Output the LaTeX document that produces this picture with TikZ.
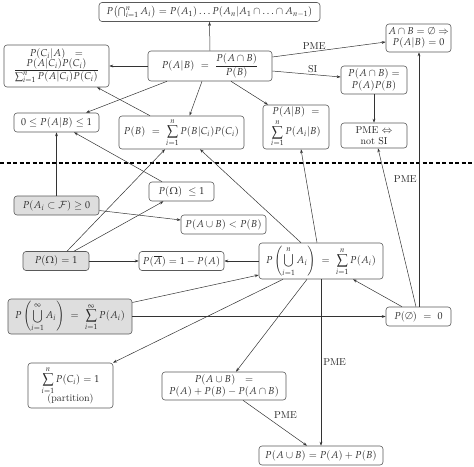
\documentclass[tikz,border=0pt]{standalone}
\usepackage{amsmath}
\usepackage{mathpazo}
\usetikzlibrary{arrows.meta}
\tikzset{
  box/.style={draw=black!65, line width=0.6pt, rounded corners=3pt, align=center, inner sep=1pt, text=black!85, font=\fontsize{10}{11.5}\selectfont},
  axiom/.style={box, fill=black!13},
  edge/.style={draw=black!80, line width=0.5pt, -{Stealth[length=4pt,width=2.8pt]}},
  lbl/.style={font=\fontsize{10}{11}\selectfont, text=black!85, inner sep=2pt}
}
\begin{document}
\begin{tikzpicture}[x=1pt,y=-1pt]
\useasboundingbox (0,0) rectangle (474,466);
% nodes
\node[box, minimum width=221pt, minimum height=19pt] (top) at (209.5,12) {$P\bigl(\bigcap_{i=1}^n A_i\bigr) = P(A_1)\ldots P(A_n|A_1\cap\ldots\cap A_{n-1})$};
\node[box, minimum width=124pt, minimum height=30pt] (pab) at (210,66) {$P(A|B)\ =\ \dfrac{P(A\cap B)}{P(B)}$};
\node[box, minimum width=105pt, minimum height=42pt] (pca) at (56.5,66) {$P(C_i|A)\ \ =$\\[-2pt] $\dfrac{P(A|C_i)P(C_i)}{\sum_{i=1}^n P(A|C_i)P(C_i)}$};
\node[box, minimum width=65pt, minimum height=28pt] (aempty) at (418.5,38) {$A\cap B=\emptyset\Rightarrow$\\ $P(A|B)=0$};
\node[box, minimum width=66pt, minimum height=28pt] (indep) at (374,80) {$P(A\cap B) =$\\ $P(A)P(B)$};
\node[box, minimum width=85pt, minimum height=19pt] (bounds) at (56.5,122.5) {$0\leq P(A|B)\leq 1$};
\node[box, minimum width=125pt, minimum height=33pt] (totalp) at (181.5,132.5) {$P(B)\ =\ \displaystyle\sum_{i=1}^n P(B|C_i)P(C_i)$};
\node[box, minimum width=66pt, minimum height=44pt] (sumcond) at (296,127) {$P(A|B)\ =$\\[1pt] $\displaystyle\sum_{i=1}^n P(A_i|B)$};
\node[box, minimum width=66pt, minimum height=25pt] (pmesi) at (374,135.5) {PME $\Leftrightarrow$\\ not SI};
\node[box, minimum width=65pt, minimum height=19pt] (omegale) at (181.5,191.5) {$P(\Omega)\ \leq 1$};
\node[axiom, minimum width=85pt, minimum height=19pt] (nonneg) at (56.5,205.5) {$P(A_i\subset\mathcal{F})\geq 0$};
\node[box, minimum width=85pt, minimum height=19pt] (unionlt) at (223.5,224.5) {$P(A\cup B) < P(B)$};
\node[axiom, minimum width=66pt, minimum height=19pt] (omega) at (56,261) {$P(\Omega)=1$};
\node[box, minimum width=85pt, minimum height=19pt] (compl) at (181.5,261) {$P(\overline{A})=1-P(A)$};
\node[box, minimum width=124pt, minimum height=36pt] (finadd) at (321,261) {$\displaystyle P\left(\bigcup_{i=1}^n A_i\right)\ =\ \sum_{i=1}^n P(A_i)$};
\node[axiom, minimum width=124pt, minimum height=35pt] (countadd) at (70,316.5) {$\displaystyle P\left(\bigcup_{i=1}^\infty A_i\right)\ =\ \sum_{i=1}^\infty P(A_i)$};
\node[box, minimum width=65pt, minimum height=19pt] (empty) at (418.5,316.5) {$P(\emptyset)\ =\ 0$};
\node[box, minimum width=85pt, minimum height=45pt] (partition) at (70.5,385.5) {$\displaystyle\sum_{i=1}^n P(C_i)=1$\\[-1pt] (partition)};
\node[box, minimum width=124pt, minimum height=28pt] (incl) at (224,386) {$P(A\cup B)\ \ =$\\ $P(A)+P(B)-P(A\cap B)$};
\node[box, minimum width=124pt, minimum height=19pt] (disj) at (321,455.5) {$P(A\cup B)=P(A)+P(B)$};
% dashed separator
\coordinate (sepL) at (0,163);
\coordinate (sepR) at (474,163);
\draw[line width=1.4pt, dash pattern=on 4pt off 2.5pt] (sepL) -- (sepR);
% edges
\draw[edge] (pab.north) -- (top.south);
\draw[edge] (pab.west) -- (pca.east);
\draw[edge] ([yshift=9pt]pab.east) -- node[lbl, above, pos=0.37] {PME} ([yshift=-4pt]aempty.west);
\draw[edge] ([yshift=-5pt]pab.east) -- node[lbl, above, pos=0.59] {SI} ([yshift=3pt]indep.west);
\draw[edge] ([xshift=-43pt]pab.south) -- ([xshift=29.5pt]bounds.north);
\draw[edge] ([xshift=-8pt]pab.south) -- ([xshift=8pt]totalp.north);
\draw[edge] ([xshift=21pt]pab.south) -- ([xshift=-28pt]sumcond.north);
\draw[edge] (indep.south) -- (pmesi.north);
\draw[edge] ([xshift=-31.5pt]totalp.north) -- ([xshift=40.5pt]pca.south);
\draw[edge] ([xshift=-19.5pt]omegale.north) -- ([xshift=17.5pt]bounds.south);
\draw[edge] (nonneg.north) -- (bounds.south);
\draw[edge] ([yshift=-5pt]nonneg.east) -- ([yshift=4.5pt]unionlt.west);
\draw[edge] ([xshift=11pt]omega.north) -- ([xshift=-16.5pt]totalp.south);
\draw[edge] ([xshift=18pt]omega.north) -- ([xshift=-18pt]omegale.south);
\draw[edge] (omega.east) -- (compl.west);
\draw[edge] (finadd.west) -- (compl.east);
\draw[edge] ([xshift=-20pt]finadd.north) -- ([xshift=18.5pt]totalp.south);
\draw[edge] ([xshift=-4pt]finadd.north) -- ([xshift=5pt]sumcond.south);
\draw[edge] ([xshift=-2.5pt]empty.north) -- ([xshift=4pt]pmesi.south);
\draw[edge] ([xshift=0.5pt]empty.north) -- node[lbl, left, pos=0.5] {PME} ([xshift=0.5pt]aempty.south);
\draw[edge] ([xshift=-16.5pt]empty.north) -- ([xshift=32pt]finadd.south);
\draw[edge] ([yshift=14pt]countadd.east) -- ([yshift=-14pt]finadd.west);
\draw[edge] (countadd.east) -- (empty.west);
\draw[edge] ([xshift=-38pt]finadd.south) -- ([xshift=42.5pt]partition.north);
\draw[edge] ([xshift=-14pt]finadd.south) -- ([xshift=12pt]incl.north);
\draw[edge] (finadd.south) -- node[lbl, right, pos=0.5] {PME} (disj.north);
\draw[edge] ([xshift=19pt]incl.south) -- node[lbl, above right, pos=0.45] {PME} ([xshift=-14pt]disj.north);
\end{tikzpicture}
\end{document}
